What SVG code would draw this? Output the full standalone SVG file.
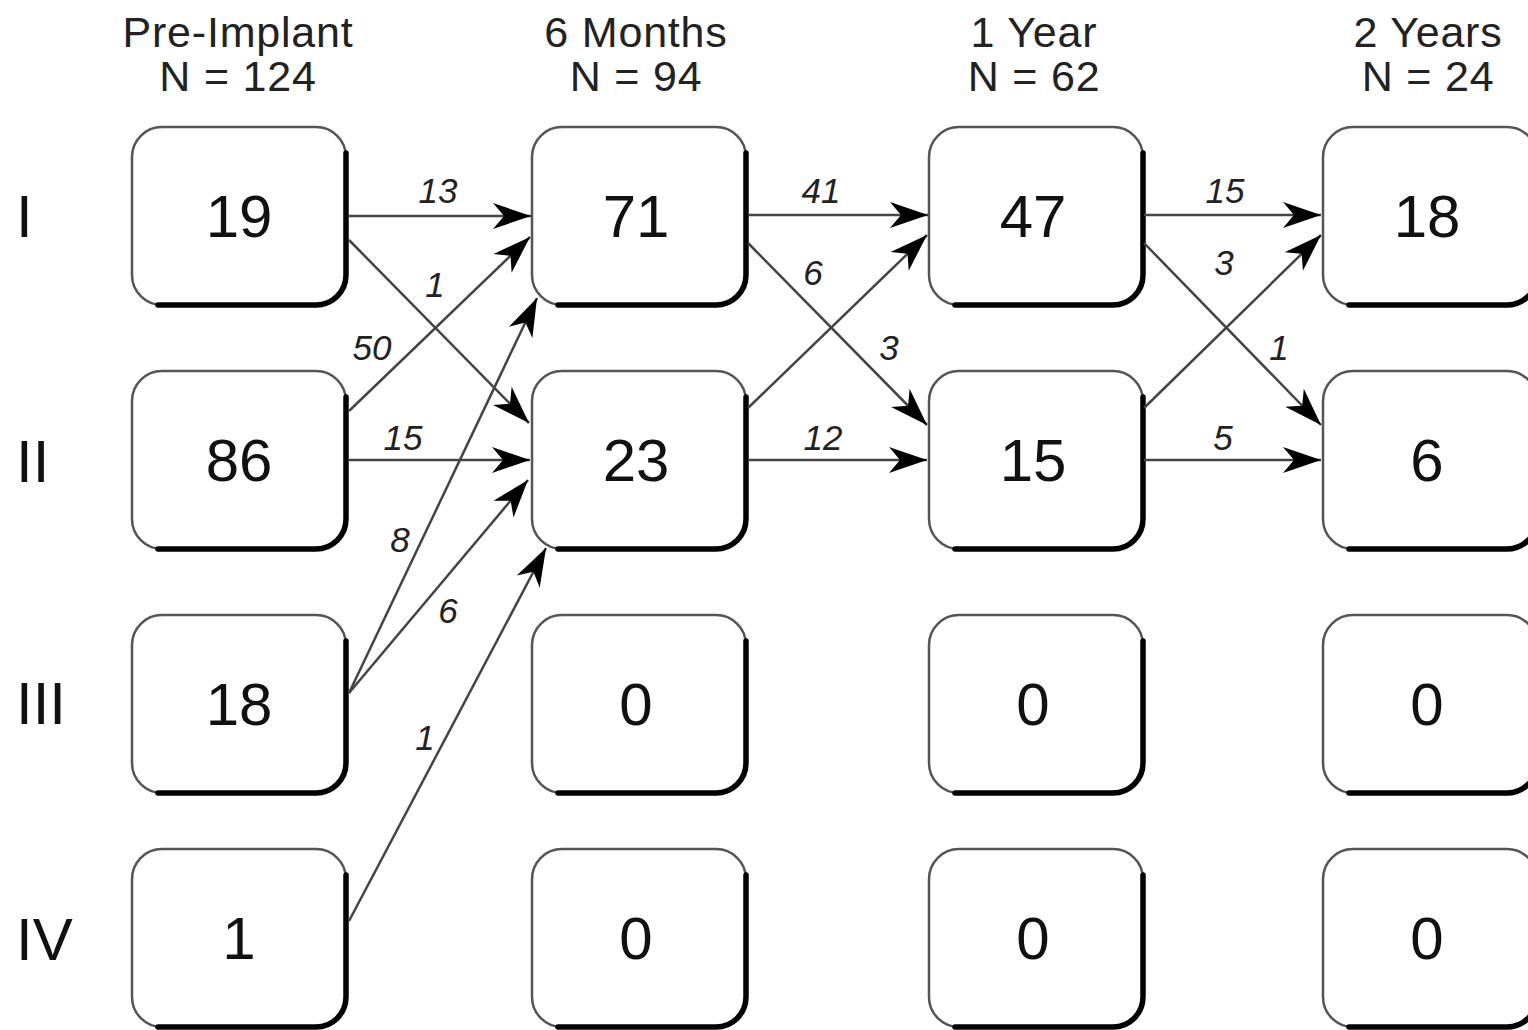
<svg xmlns="http://www.w3.org/2000/svg" width="1528" height="1030" viewBox="0 0 1528 1030">
<style>
.hdr{font-family:"Liberation Sans",Arial,sans-serif;font-size:43px;letter-spacing:0.8px;fill:#222;text-anchor:middle}
.row{font-family:"Liberation Sans",Arial,sans-serif;font-size:60px;fill:#111}
.num{font-family:"Liberation Sans",Arial,sans-serif;font-size:60px;fill:#111;text-anchor:middle}
.edge line{stroke:#444;stroke-width:2.5;marker-end:url(#ah)}
.lbl{font-family:"Liberation Sans",Arial,sans-serif;font-size:35px;font-style:italic;fill:#222;text-anchor:middle}
</style>
<defs>
<marker id="ah" markerUnits="userSpaceOnUse" markerWidth="40" markerHeight="26" refX="38" refY="13" orient="auto" overflow="visible">
<path d="M38,13 L0,0 L11,13 L0,26 Z" fill="#000"/>
</marker>
<g id="bx"><rect x="0" y="0" width="214" height="178" rx="30" fill="#fff" stroke="#555" stroke-width="2.5"/><path d="M214,26 V148 A30,30 0 0 1 184,178 H26" fill="none" stroke="#000" stroke-width="5.5" stroke-linecap="round"/></g>
</defs>
<rect width="1528" height="1030" fill="#fff"/>
<g id="headers">
<text class="hdr" x="238" y="47">Pre-Implant</text><text class="hdr" x="238" y="91">N = 124</text>
<text class="hdr" x="636" y="47">6 Months</text><text class="hdr" x="636" y="91">N = 94</text>
<text class="hdr" x="1034" y="47">1 Year</text><text class="hdr" x="1034" y="91">N = 62</text>
<text class="hdr" x="1428" y="47">2 Years</text><text class="hdr" x="1428" y="91">N = 24</text>
</g>
<g id="rowlabels">
<text class="row" x="16" y="237">I</text>
<text class="row" x="16" y="482">II</text>
<text class="row" x="16" y="724">III</text>
<text class="row" x="16" y="960">IV</text>
</g>
<g id="n1-I" transform="translate(132,127)"><use href="#bx"/><text class="num" x="107" y="110">19</text></g>
<g id="n1-II" transform="translate(132,371)"><use href="#bx"/><text class="num" x="107" y="110">86</text></g>
<g id="n1-III" transform="translate(132,615)"><use href="#bx"/><text class="num" x="107" y="110">18</text></g>
<g id="n1-IV" transform="translate(132,849)"><use href="#bx"/><text class="num" x="107" y="110">1</text></g>
<g id="n2-I" transform="translate(532,127)"><use href="#bx"/><text class="num" x="104" y="110">71</text></g>
<g id="n2-II" transform="translate(532,371)"><use href="#bx"/><text class="num" x="104" y="110">23</text></g>
<g id="n2-III" transform="translate(532,615)"><use href="#bx"/><text class="num" x="104" y="110">0</text></g>
<g id="n2-IV" transform="translate(532,849)"><use href="#bx"/><text class="num" x="104" y="110">0</text></g>
<g id="n3-I" transform="translate(929,127)"><use href="#bx"/><text class="num" x="104" y="110">47</text></g>
<g id="n3-II" transform="translate(929,371)"><use href="#bx"/><text class="num" x="104" y="110">15</text></g>
<g id="n3-III" transform="translate(929,615)"><use href="#bx"/><text class="num" x="104" y="110">0</text></g>
<g id="n3-IV" transform="translate(929,849)"><use href="#bx"/><text class="num" x="104" y="110">0</text></g>
<g id="n4-I" transform="translate(1323,127)"><use href="#bx"/><text class="num" x="104" y="110">18</text></g>
<g id="n4-II" transform="translate(1323,371)"><use href="#bx"/><text class="num" x="104" y="110">6</text></g>
<g id="n4-III" transform="translate(1323,615)"><use href="#bx"/><text class="num" x="104" y="110">0</text></g>
<g id="n4-IV" transform="translate(1323,849)"><use href="#bx"/><text class="num" x="104" y="110">0</text></g>
<g id="connectors" class="edge">
<line x1="349" y1="216" x2="531" y2="216"/>
<line x1="349" y1="240" x2="529" y2="423"/>
<line x1="349" y1="411" x2="530" y2="237"/>
<line x1="349" y1="460" x2="530" y2="460"/>
<line x1="349" y1="693" x2="537" y2="298"/>
<line x1="349" y1="693" x2="528" y2="480"/>
<line x1="349" y1="921" x2="546" y2="548"/>
<line x1="748" y1="215" x2="928" y2="215"/>
<line x1="748" y1="243" x2="927" y2="425"/>
<line x1="748" y1="408" x2="927" y2="235"/>
<line x1="748" y1="460" x2="927" y2="460"/>
<line x1="1144" y1="215" x2="1321" y2="215"/>
<line x1="1144" y1="243" x2="1321" y2="425"/>
<line x1="1144" y1="408" x2="1321" y2="235"/>
<line x1="1144" y1="460" x2="1321" y2="460"/>
</g>
<g id="edge-labels">
<text class="lbl" x="438" y="203">13</text>
<text class="lbl" x="435" y="297">1</text>
<text class="lbl" x="372" y="360">50</text>
<text class="lbl" x="403" y="450">15</text>
<text class="lbl" x="400" y="552">8</text>
<text class="lbl" x="448" y="623">6</text>
<text class="lbl" x="425" y="750">1</text>
<text class="lbl" x="821" y="203">41</text>
<text class="lbl" x="813" y="285">6</text>
<text class="lbl" x="889" y="360">3</text>
<text class="lbl" x="823" y="450">12</text>
<text class="lbl" x="1225" y="203">15</text>
<text class="lbl" x="1224" y="275">3</text>
<text class="lbl" x="1279" y="360">1</text>
<text class="lbl" x="1223" y="450">5</text>
</g>
</svg>
